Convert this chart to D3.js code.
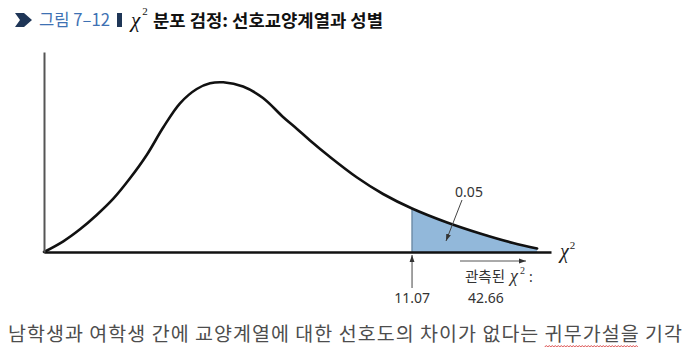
<!DOCTYPE html>
<html>
<head>
<meta charset="utf-8">
<script src="https://cdn.jsdelivr.net/npm/d3@7"></script>
<style>
  html, body { margin: 0; padding: 0; background: #fff; }
  svg { display: block; }
</style>
</head>
<body>
<script>
// ---- data ----
const curveX = [0, 0.581, 1.083, 1.585, 2.085, 2.587, 3.090, 3.589, 4.091, 4.594, 4.994, 5.394, 5.987, 6.588, 7.190, 7.611, 8.002, 8.604, 9.416, 10.199, 11.07, 12.124, 13.117, 14.110, 14.832];
const curveY = [0, 0.0535, 0.1135, 0.185, 0.2665, 0.3685, 0.485, 0.6235, 0.7435, 0.815, 0.8435, 0.8485, 0.8275, 0.77, 0.675, 0.615, 0.5575, 0.475, 0.3725, 0.29, 0.2175, 0.1475, 0.0925, 0.045, 0.0175];
const criticalValue = 11.07;
const observedValue = 42.66;
const alphaLabel = "0.05";
const titlePrefix = "그림 7–12";
const titleMain = "분포 검정: 선호교양계열과 성별";
const observedLabel = "관측된";
const caption = "남학생과 여학생 간에 교양계열에 대한 선호도의 차이가 없다는 귀무가설을 기각";
const underlined = "귀무가설을";

const points = curveX.map((v, i) => ({ x: v, y: curveY[i] }));

const W = 686, H = 356;
const svg = d3.select("body").append("svg").attr("width", W).attr("height", H);
svg.append("rect").attr("width", W).attr("height", H).attr("fill", "#fff");

const defs = svg.append("defs");
defs.append("marker").attr("id", "arr")
  .attr("viewBox", "0 0 10 10").attr("refX", 10).attr("refY", 5)
  .attr("markerWidth", 7).attr("markerHeight", 7).attr("orient", "auto")
  .attr("markerUnits", "userSpaceOnUse")
  .append("path").attr("d", "M0,1.5 L10,5 L0,8.5 Z").attr("fill", "#333");

const x = d3.scaleLinear().domain([0, 15.25]).range([44, 551]);
const y = d3.scaleLinear().domain([0, 1]).range([252, 52]);
const curve = d3.curveCatmullRom.alpha(0.5);

// ---- shaded tail ----
const tail = points.filter(d => d.x >= criticalValue);
const area = d3.area().x(d => x(d.x)).y0(y(0)).y1(d => y(d.y)).curve(curve);
svg.append("path").datum(tail).attr("d", area).attr("fill", "#92b8da");
const critY = points.find(d => d.x === criticalValue).y;
svg.append("line")
  .attr("x1", x(criticalValue)).attr("x2", x(criticalValue))
  .attr("y1", y(0)).attr("y2", y(critY))
  .attr("stroke", "#6f8ea9").attr("stroke-width", 1.5);

// ---- curve ----
const line = d3.line().x(d => x(d.x)).y(d => y(d.y)).curve(curve);
svg.append("path").datum(points).attr("d", line)
  .attr("fill", "none").attr("stroke", "#111").attr("stroke-width", 2.6)
  .attr("stroke-linecap", "round");

// ---- axes ----
const gx = svg.append("g").attr("transform", `translate(0,${y(0)})`)
  .call(d3.axisBottom(x).ticks(0).tickSizeOuter(0));
gx.select(".domain").attr("stroke", "#111").attr("stroke-width", 2.5);
const gy = svg.append("g").attr("transform", `translate(${x(0)},0)`)
  .call(d3.axisLeft(y).ticks(0).tickSizeOuter(0));
gy.select(".domain").attr("stroke", "#555").attr("stroke-width", 2);

// axis label chi^2
const chiFont = "'Liberation Serif', 'DejaVu Serif', serif";
const axLab = svg.append("text").attr("x", 560).attr("y", 258)
  .attr("font-family", chiFont).attr("fill", "#222");
axLab.append("tspan").attr("font-style", "italic").attr("font-size", 20).text("χ");
axLab.append("tspan").attr("font-size", 11).attr("dy", -9).attr("dx", 1).text("2");

// ---- 0.05 annotation ----
const numFont = "'Noto Sans', 'Liberation Sans', sans-serif";
svg.append("text").attr("x", 469).attr("y", 197).attr("text-anchor", "middle")
  .attr("font-family", numFont).attr("font-size", 14).attr("fill", "#333").text(alphaLabel);
svg.append("line")
  .attr("x1", 462).attr("y1", 200).attr("x2", 446).attr("y2", 241)
  .attr("stroke", "#444").attr("stroke-width", 1).attr("marker-end", "url(#arr)");

// ---- critical value arrow ----
svg.append("line")
  .attr("x1", x(criticalValue)).attr("x2", x(criticalValue))
  .attr("y1", 288).attr("y2", 255)
  .attr("stroke", "#444").attr("stroke-width", 1).attr("marker-end", "url(#arr)");
svg.append("text").attr("x", x(criticalValue)).attr("y", 303).attr("text-anchor", "middle")
  .attr("font-family", numFont).attr("font-size", 14).attr("fill", "#333").text(criticalValue.toFixed(2));

// ---- observed value ----
svg.append("line")
  .attr("x1", 460).attr("x2", 526).attr("y1", 261).attr("y2", 261)
  .attr("stroke", "#555").attr("stroke-width", 1).attr("marker-end", "url(#arr)");
const korFont = "'Noto Sans CJK KR', 'Noto Sans CJK SC', sans-serif";
const obs = svg.append("text").attr("x", 465).attr("y", 282).attr("fill", "#333");
obs.append("tspan").attr("font-family", korFont).attr("font-size", 14.5).text(observedLabel);
obs.append("tspan").attr("font-family", chiFont).attr("font-style", "italic").attr("font-size", 18).attr("dx", 5).text("χ");
obs.append("tspan").attr("font-family", chiFont).attr("font-size", 10).attr("dy", -8).attr("dx", 2).text("2");
obs.append("tspan").attr("font-family", numFont).attr("font-size", 14).attr("dy", 8).attr("dx", 4).text(":");
svg.append("text").attr("x", 486).attr("y", 303).attr("text-anchor", "middle")
  .attr("font-family", numFont).attr("font-size", 14).attr("fill", "#333").text(observedValue.toFixed(2));

// ---- title ----
svg.append("path").attr("d", "M15,13 L24,13 L32,20 L24,27 L15,27 L20,20 Z").attr("fill", "#1f3657");
svg.append("text").attr("x", 39).attr("y", 26)
  .attr("font-family", korFont).attr("font-size", 17).attr("fill", "#3e71b3")
  .attr("textLength", 71).attr("lengthAdjust", "spacingAndGlyphs").text(titlePrefix);
svg.append("rect").attr("x", 117).attr("y", 13).attr("width", 5).attr("height", 14).attr("fill", "#1f3657");
const tChi = svg.append("text").attr("x", 131).attr("y", 27).attr("font-family", chiFont).attr("fill", "#111");
tChi.append("tspan").attr("font-style", "italic").attr("font-size", 21).text("χ");
tChi.append("tspan").attr("font-size", 11).attr("dy", -12).attr("dx", 2).text("2");
svg.append("text").attr("x", 153).attr("y", 27)
  .attr("font-family", korFont).attr("font-weight", "bold").attr("font-size", 17.5).attr("fill", "#111")
  .attr("textLength", 230).attr("lengthAdjust", "spacingAndGlyphs").text(titleMain);

// ---- caption ----
const cap = svg.append("text").attr("x", 8).attr("y", 341)
  .attr("font-family", korFont).attr("font-size", 19.5).attr("fill", "#4d4d4d")
  .attr("textLength", 674).attr("lengthAdjust", "spacing").text(caption);
try {
  const idx = caption.indexOf(underlined);
  const node = cap.node();
  const s = node.getStartPositionOfChar(idx).x;
  const e = node.getEndPositionOfChar(idx + underlined.length - 1).x;
  let d = `M${s},347`;
  let up = true;
  for (let px = s + 1.5; px <= e; px += 1.5) { d += ` L${px},${up ? 345.5 : 347}`; up = !up; }
  svg.append("path").attr("d", d).attr("fill", "none").attr("stroke", "#d83a3a").attr("stroke-width", 0.9);
} catch (err) {}
</script>
</body>
</html>
